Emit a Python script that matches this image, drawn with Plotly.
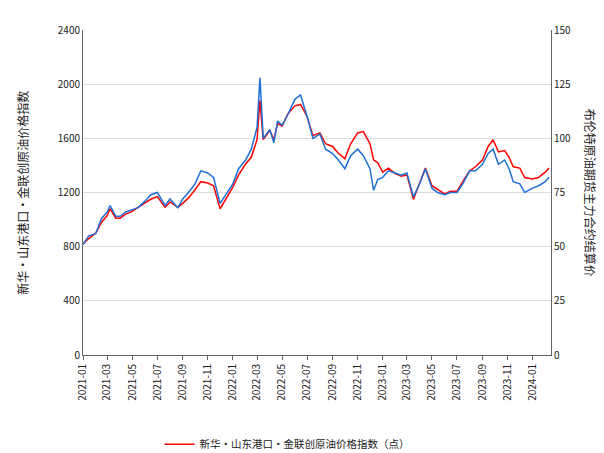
import plotly.graph_objects as go

dates = ["2021-01-01","2021-01-15","2021-02-01","2021-02-15","2021-03-01","2021-03-08","2021-03-22","2021-04-01","2021-04-15","2021-05-01","2021-05-15","2021-06-01","2021-06-15","2021-07-01","2021-07-20","2021-08-01","2021-08-20","2021-09-01","2021-09-15","2021-10-01","2021-10-15","2021-11-01","2021-11-15","2021-12-01","2021-12-15",
"2022-01-01","2022-01-15","2022-02-01","2022-02-15","2022-03-01","2022-03-08","2022-03-16","2022-04-01","2022-04-11","2022-04-20","2022-05-01","2022-05-15","2022-06-01","2022-06-15","2022-07-01","2022-07-15","2022-08-01","2022-08-15","2022-09-01","2022-09-15","2022-10-01","2022-10-15","2022-11-01","2022-11-15","2022-12-01","2022-12-10","2022-12-20",
"2023-01-01","2023-01-15","2023-02-01","2023-02-15","2023-03-01","2023-03-17","2023-04-01","2023-04-15","2023-05-01","2023-05-15","2023-06-01","2023-06-15","2023-07-01","2023-07-15","2023-08-01","2023-08-15","2023-09-01","2023-09-15","2023-09-27","2023-10-10","2023-10-25","2023-11-05","2023-11-15","2023-12-01","2023-12-13","2024-01-01","2024-01-15","2024-02-01","2024-02-10"]
brent = [51,55,56,63,66,69,64,64,66,67,68,71,74,75,69,72,68,72,75,79,85,84,82,70,74,
79,86,90,95,105,128,100,104,98,108,106,111,118,120,110,100,102,95,93,90,86,92,95,92,86,76,81,
82,85,84,83,84,73,79,86,77,75,74,75,75,79,85,85,88,93,95,88,90,86,80,79,75,77,78,80,82]
index = [820,860,900,980,1030,1080,1010,1010,1040,1060,1090,1120,1150,1170,1090,1130,1090,1120,1160,1220,1280,1270,1250,1080,1150,
1240,1330,1410,1460,1590,1880,1590,1660,1590,1710,1690,1780,1840,1850,1760,1620,1640,1560,1540,1490,1450,1560,1640,1650,1560,1440,1420,
1350,1380,1340,1320,1330,1150,1270,1380,1250,1220,1190,1210,1210,1280,1360,1390,1440,1540,1590,1500,1510,1460,1390,1380,1310,1300,1310,1350,1380]

fig = go.Figure()
fig.add_trace(go.Scatter(x=dates, y=index, mode="lines", line=dict(color="#ff0000", width=1.5),
                         name="新华・山东港口・金联创原油价格指数（点）"))
fig.add_trace(go.Scatter(x=dates, y=brent, mode="lines", line=dict(color="#1f6fd6", width=1.5),
                         name="布伦特原油期货主力合约结算价（美元/桶）", yaxis="y2"))
fig.update_layout(
    width=604, height=453, paper_bgcolor="white", plot_bgcolor="white",
    font=dict(family="Noto Sans CJK SC", size=10, color="#222"),
    margin=dict(l=75, r=61, t=22, b=106, autoexpand=False),
    xaxis=dict(type="date", range=["2021-01-01","2024-02-15"], tickformat="%Y-%m", dtick="M2",
               tick0="2021-01-01", tickangle=-90, showgrid=False, showline=True, linecolor="#666",
               ticks="outside", ticklen=4, tickcolor="#666"),
    yaxis=dict(range=[0,2400], dtick=400, gridcolor="#ddd", showline=True, linecolor="#666", zeroline=False),
    yaxis2=dict(range=[0,150], dtick=25, overlaying="y", side="right", showgrid=False,
                showline=True, linecolor="#666", zeroline=False),
    legend=dict(orientation="h", x=0.5, xanchor="center", y=-0.23, yanchor="top",
                font=dict(size=10.5), entrywidth=270, tracegroupgap=0),
    showlegend=True,
    annotations=[
        dict(text="新华・山东港口・金联创原油价格指数", textangle=-90, x=-0.13, xref="paper", y=0.5, yref="paper",
             xanchor="center", yanchor="middle", showarrow=False, font=dict(size=12)),
        dict(text="布伦特原油期货主力合约结算价", textangle=90, x=1.085, xref="paper", y=0.5, yref="paper",
             xanchor="center", yanchor="middle", showarrow=False, font=dict(size=12)),
    ],
)
fig.write_html("out.html")
